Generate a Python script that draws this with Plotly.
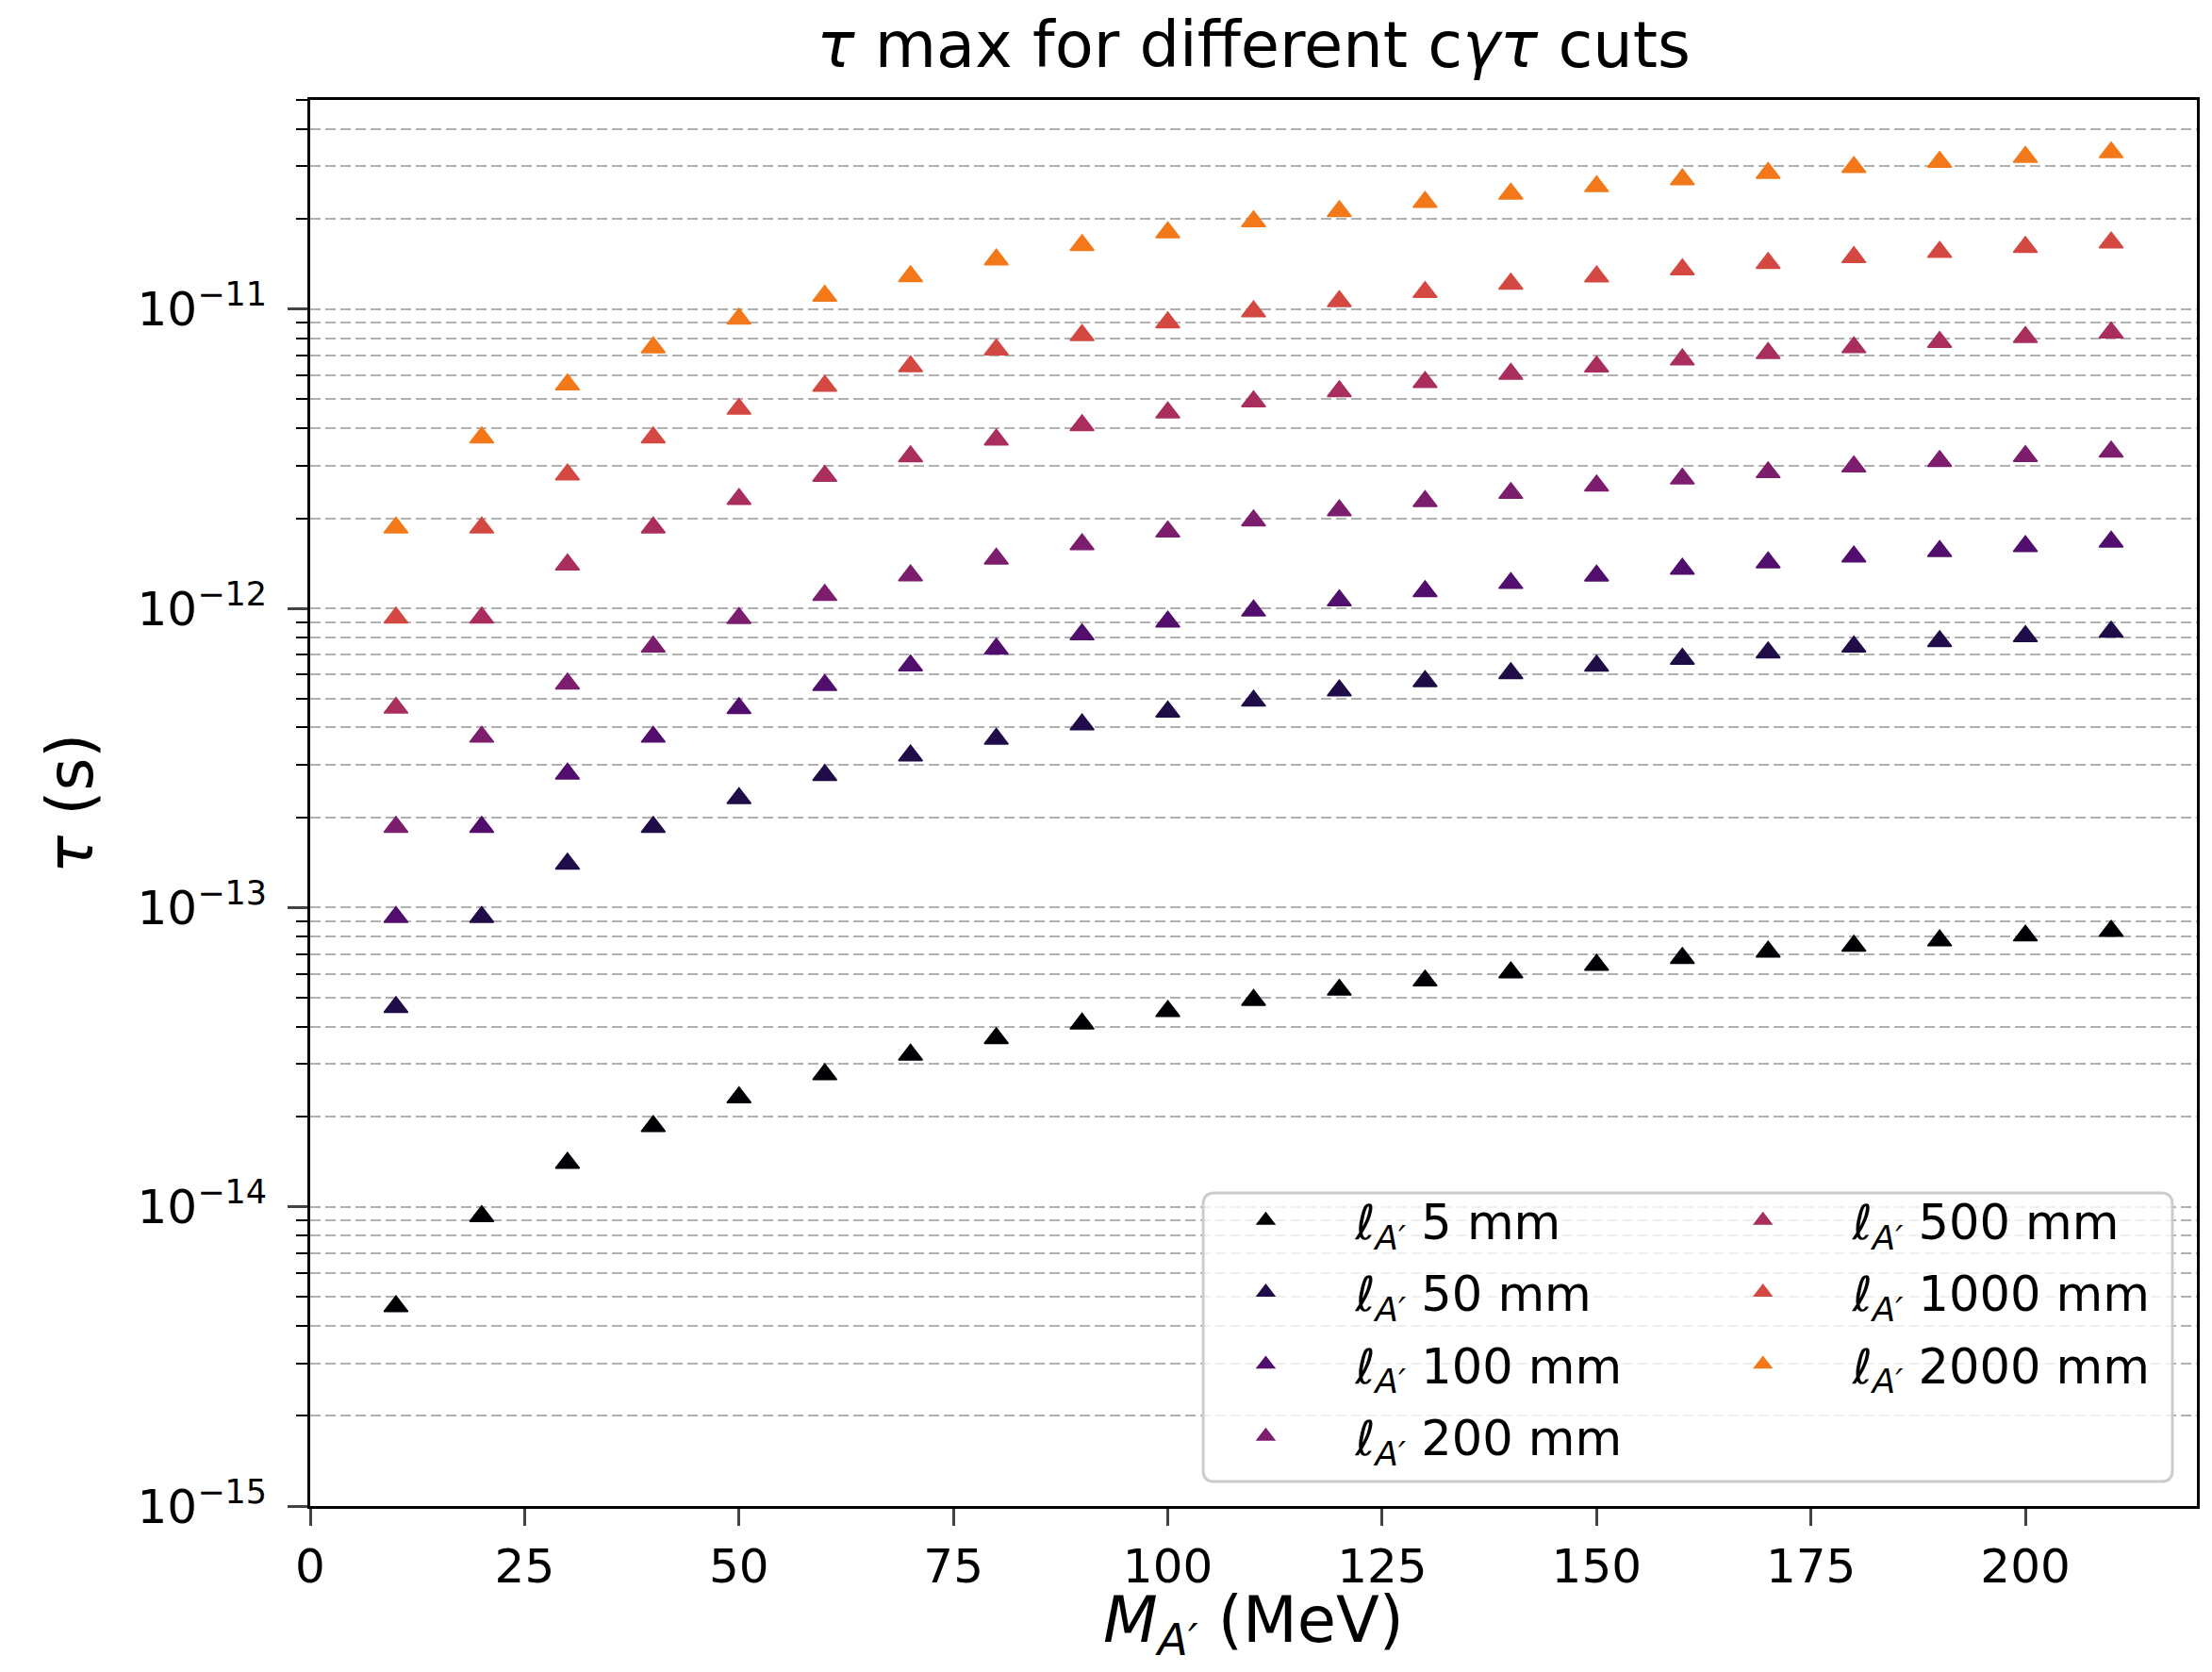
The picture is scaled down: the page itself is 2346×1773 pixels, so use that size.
import plotly.graph_objects as go

masses = [10, 20, 30, 40, 50, 60, 70, 80, 90, 100, 110, 120, 130, 140, 150, 160, 170, 180, 190, 200, 210]

tau_5mm = [4.65e-15, 9.3e-15, 1.40e-14, 1.86e-14, 2.32e-14, 2.77e-14, 3.22e-14, 3.66e-14, 4.09e-14, 4.51e-14,
           4.91e-14, 5.31e-14, 5.70e-14, 6.07e-14, 6.43e-14, 6.78e-14, 7.12e-14, 7.45e-14, 7.76e-14, 8.06e-14, 8.35e-14]
tau_50mm = [4.65e-14, 9.3e-14, 1.40e-13, 1.86e-13, 2.32e-13, 2.77e-13, 3.22e-13, 3.66e-13, 4.09e-13, 4.51e-13,
            4.91e-13, 5.31e-13, 5.70e-13, 6.07e-13, 6.43e-13, 6.78e-13, 7.12e-13, 7.45e-13, 7.76e-13, 8.06e-13, 8.35e-13]
tau_100mm = [9.3e-14, 1.86e-13, 2.80e-13, 3.72e-13, 4.64e-13, 5.54e-13, 6.44e-13, 7.32e-13, 8.18e-13, 9.02e-13,
             9.82e-13, 1.062e-12, 1.14e-12, 1.214e-12, 1.286e-12, 1.356e-12, 1.424e-12, 1.49e-12, 1.552e-12, 1.612e-12, 1.67e-12]
tau_200mm = [1.86e-13, 3.72e-13, 5.60e-13, 7.44e-13, 9.28e-13, 1.108e-12, 1.288e-12, 1.464e-12, 1.636e-12, 1.804e-12,
             1.964e-12, 2.124e-12, 2.28e-12, 2.428e-12, 2.572e-12, 2.712e-12, 2.848e-12, 2.98e-12, 3.104e-12, 3.224e-12, 3.34e-12]
tau_500mm = [4.65e-13, 9.3e-13, 1.40e-12, 1.86e-12, 2.32e-12, 2.77e-12, 3.22e-12, 3.66e-12, 4.09e-12, 4.51e-12,
             4.91e-12, 5.31e-12, 5.70e-12, 6.07e-12, 6.43e-12, 6.78e-12, 7.12e-12, 7.45e-12, 7.76e-12, 8.06e-12, 8.35e-12]
tau_1000mm = [9.3e-13, 1.86e-12, 2.80e-12, 3.72e-12, 4.64e-12, 5.54e-12, 6.44e-12, 7.32e-12, 8.18e-12, 9.02e-12,
              9.82e-12, 1.062e-11, 1.14e-11, 1.214e-11, 1.286e-11, 1.356e-11, 1.424e-11, 1.49e-11, 1.552e-11, 1.612e-11, 1.67e-11]
tau_2000mm = [1.86e-12, 3.72e-12, 5.60e-12, 7.44e-12, 9.28e-12, 1.108e-11, 1.288e-11, 1.464e-11, 1.636e-11, 1.804e-11,
              1.964e-11, 2.124e-11, 2.28e-11, 2.428e-11, 2.572e-11, 2.712e-11, 2.848e-11, 2.98e-11, 3.104e-11, 3.224e-11, 3.34e-11]

lengths = ["5", "50", "100", "200", "500", "1000", "2000"]
series = [tau_5mm, tau_50mm, tau_100mm, tau_200mm, tau_500mm, tau_1000mm, tau_2000mm]
colors = ["#000004", "#1f0c48", "#510e6c", "#7c1d6d", "#a92e5e", "#d44842", "#f37819"]

x_ticks = [0, 25, 50, 75, 100, 125, 150, 175, 200]
y_major = [1e-15, 1e-14, 1e-13, 1e-12, 1e-11]
y_major_text = ["10<sup>−15</sup>", "10<sup>−14</sup>", "10<sup>−13</sup>", "10<sup>−12</sup>", "10<sup>−11</sup>"]
y_minor = [m * d for d in [1e-15, 1e-14, 1e-13, 1e-12, 1e-11] for m in range(2, 10) if m * d <= 5.01e-11]

FONT = "DejaVu Sans"
fig = go.Figure()
for i, (lab, ys, col) in enumerate(zip(lengths, series, colors)):
    fig.add_trace(go.Scatter(
        x=masses, y=ys, mode="markers",
        name="<i>ℓ</i><sub><i>A′</i></sub> " + lab + " mm",
        legendgroup="g" + lab,
        marker=dict(symbol="triangle-up", size=22, color=col, line=dict(color=col, width=1.5)),
        legend="legend" if i < 4 else "legend2",
    ))

grid_color = "#b0b0b0"
fig.update_layout(
    width=2330, height=1757,
    margin=dict(l=321, r=8, t=98, b=168),
    paper_bgcolor="white", plot_bgcolor="white",
    font=dict(family=FONT, size=50, color="black"),
    title=dict(text="<i>τ</i> max for different c<i>γτ</i> cuts", x=0.5672, xanchor="center",
               y=1 - 40 / 1757, yanchor="middle", font=dict(size=67)),
    xaxis=dict(range=[0, 220], tickvals=x_ticks, ticks="outside", ticklen=18, tickwidth=3,
               showline=True, linecolor="black", linewidth=3, mirror=True, showgrid=False, zeroline=False,
               automargin=False),
    yaxis=dict(type="log", range=[-15, -10.301], tickvals=y_major, ticktext=y_major_text,
               ticks="outside", ticklen=21, tickwidth=3, ticklabelstandoff=12,
               showline=True, linecolor="black", linewidth=3, mirror=True, zeroline=False,
               showgrid=True, gridcolor=grid_color, gridwidth=2, griddash="11px,5px",
               automargin=False,
               minor=dict(tickvals=y_minor, ticks="outside", ticklen=12, tickwidth=2, tickcolor="black",
                          showgrid=True, gridcolor=grid_color, gridwidth=2, griddash="11px,5px")),
    legend=dict(x=0.459, y=0.2298, xanchor="left", yanchor="top", bgcolor="rgba(0,0,0,0)",
                borderwidth=0, font=dict(size=51), itemwidth=180, tracegroupgap=7),
    legend2=dict(x=0.7225, y=0.2298, xanchor="left", yanchor="top", bgcolor="rgba(0,0,0,0)",
                 borderwidth=0, font=dict(size=51), itemwidth=180, tracegroupgap=7),
)

# axis titles
fig.add_annotation(text="<i>M</i><sub><i>A′</i></sub> (MeV)", xref="paper", yref="paper",
                   x=0.5, y=-0.0845, xanchor="center", yanchor="middle", showarrow=False,
                   font=dict(size=67))
fig.add_annotation(text="<i>τ</i> (s)", xref="paper", yref="paper", textangle=-90,
                   x=-0.127, y=0.5, xanchor="center", yanchor="middle", showarrow=False,
                   font=dict(size=67))

x0, x1, y0, y1 = 0.4733, 0.987, 0.0174, 0.2227
rx, ry = 0.006, 0.008
path = (f"M {x0+rx},{y0} L {x1-rx},{y0} Q {x1},{y0} {x1},{y0+ry} L {x1},{y1-ry} Q {x1},{y1} {x1-rx},{y1} "
        f"L {x0+rx},{y1} Q {x0},{y1} {x0},{y1-ry} L {x0},{y0+ry} Q {x0},{y0} {x0+rx},{y0} Z")
fig.add_shape(type="path", path=path, xref="paper", yref="paper", layer="above",
              fillcolor="rgba(255,255,255,0.8)", line=dict(color="#cccccc", width=3))

fig.write_html("out.html")
